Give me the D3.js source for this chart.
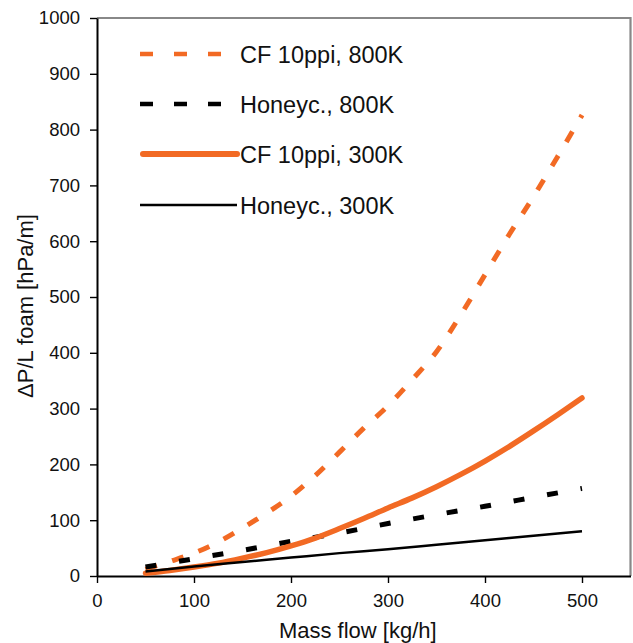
<!DOCTYPE html>
<html>
<head>
<meta charset="utf-8">
<script src="https://cdn.jsdelivr.net/npm/d3@7/dist/d3.min.js"></script>
<style>
  html, body { margin: 0; padding: 0; background: #fff; }
  svg { display: block; font-family: "Liberation Sans", Arial, Helvetica, sans-serif; }
</style>
</head>
<body>
<svg id="chart" width="633" height="643"></svg>
<script>
// Pressure drop per length vs. mass flow for foam and honeycomb carriers
const flowFine = [50, 75, 100, 125, 150, 175, 200, 225, 250, 275, 300, 325, 350, 375, 400, 425, 450, 475, 500];
const flowCoarse = [50, 100, 150, 200, 250, 300, 350, 400, 450, 500];

const cf800 = [12, 26, 41, 61, 86, 113, 143, 180, 222, 265, 305, 352, 402, 468, 540, 612, 680, 752, 826];
const cf300 = [5, 10, 16, 23, 32, 42, 54, 68, 85, 103, 122, 140, 160, 182, 206, 232, 260, 289, 319];
const honey800 = [16, 31, 46, 62, 77, 94, 110, 125, 141, 157];
const honey300 = [8, 17, 25, 33, 41, 48, 56, 64, 72, 80];

const xTicks = [0, 100, 200, 300, 400, 500];
const yTicks = [0, 100, 200, 300, 400, 500, 600, 700, 800, 900, 1000];

const ORANGE = "#F26A24";

const series = [
  { name: "CF 10ppi, 800K", x: flowFine, y: cf800, color: ORANGE, width: 5, dash: "12,16", legendDash: "13,21" },
  { name: "Honeyc., 800K", x: flowCoarse, y: honey800, color: "#000", width: 5, dash: "11,23", legendDash: "13,21" },
  { name: "CF 10ppi, 300K", x: flowFine, y: cf300, color: ORANGE, width: 5.5, dash: null, legendDash: null, round: true },
  { name: "Honeyc., 300K", x: flowCoarse, y: honey300, color: "#000", width: 2.5, dash: null, legendDash: null }
];

const svg = d3.select("#chart");
const plotLeft = 97, plotRight = 630.5, plotTop = 18, plotBottom = 576;

const x = d3.scaleLinear().domain([0, 550]).range([plotLeft, plotRight]);
const y = d3.scaleLinear().domain([0, 1000]).range([plotBottom, plotTop]);

// frame: grey top and right edges
svg.append("path")
  .attr("d", `M${plotLeft},${plotTop}H${plotRight}V${plotBottom}`)
  .attr("fill", "none")
  .attr("stroke", "#888")
  .attr("stroke-width", 2.2);

// axes
const yAxis = svg.append("g")
  .attr("transform", `translate(${plotLeft},0)`)
  .call(d3.axisLeft(y).tickValues(yTicks).tickFormat(d3.format("d")).tickSize(7).tickPadding(10).tickSizeOuter(0));
const xAxis = svg.append("g")
  .attr("transform", `translate(0,${plotBottom})`)
  .call(d3.axisBottom(x).tickValues(xTicks).tickFormat(d3.format("d")).tickSize(7).tickPadding(11).tickSizeOuter(0));

[xAxis, yAxis].forEach(g => {
  g.select(".domain").attr("stroke", "#000").attr("stroke-width", 2);
  g.selectAll(".tick line").attr("stroke", "#000").attr("stroke-width", 1.4);
  g.selectAll(".tick text").attr("fill", "#111").style("font-size", "18.5px").style("font-family", "'Liberation Sans', Arial, sans-serif");
});

// curves
const line = d3.line().curve(d3.curveMonotoneX);
const plot = svg.append("g");
series.forEach(s => {
  const pts = s.x.map((v, i) => [x(v), y(s.y[i])]);
  plot.append("path")
    .attr("d", line(pts))
    .attr("fill", "none")
    .attr("stroke", s.color)
    .attr("stroke-width", s.width)
    .attr("stroke-linecap", s.round ? "round" : "butt")
    .attr("stroke-linejoin", "round")
    .attr("stroke-dasharray", s.dash);
});

// legend
const legend = svg.append("g");
const legendY = [54, 104, 154, 205];
series.forEach((s, i) => {
  const ly = legendY[i];
  const x0 = s.round ? 143 : 140;
  const x1 = s.dash ? 221 : 237;
  legend.append("line")
    .attr("x1", x0).attr("x2", x1)
    .attr("y1", ly).attr("y2", ly)
    .attr("stroke", s.color)
    .attr("stroke-width", s.width === 2.5 ? 2.5 : (s.dash ? 4.5 : 6))
    .attr("stroke-linecap", s.round ? "round" : "butt")
    .attr("stroke-dasharray", s.legendDash);
  legend.append("text")
    .attr("x", 240).attr("y", ly + 8.5)
    .attr("fill", "#111")
    .style("font-size", "23.5px")
    .text(s.name);
});

// axis titles
svg.append("text")
  .attr("x", (plotLeft + plotRight) / 2 - 6).attr("y", 638)
  .attr("text-anchor", "middle")
  .attr("fill", "#111")
  .style("font-size", "22px")
  .text("Mass flow [kg/h]");

svg.append("text")
  .attr("transform", "translate(33,306) rotate(-90)")
  .attr("text-anchor", "middle")
  .attr("fill", "#111")
  .style("font-size", "22px")
  .text("ΔP/L foam [hPa/m]");
</script>
</body>
</html>
